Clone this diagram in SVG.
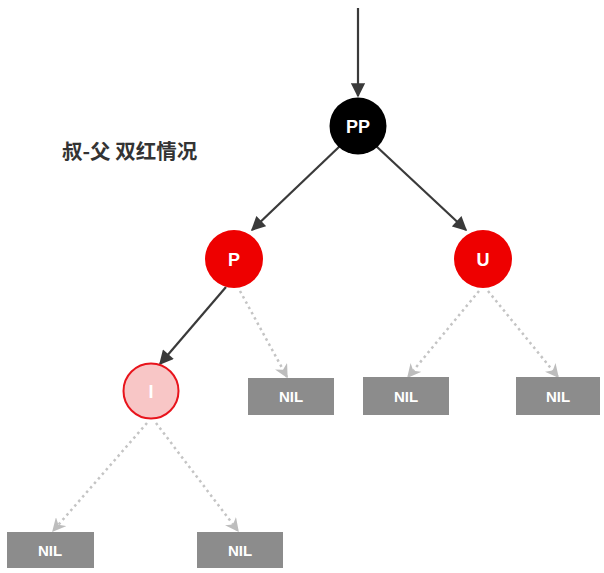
<svg xmlns="http://www.w3.org/2000/svg" width="604" height="573" viewBox="0 0 604 573">
  <defs>
    <marker id="arrowDark" viewBox="0 0 10 10" refX="9" refY="5" markerWidth="7" markerHeight="6.5" orient="auto" markerUnits="strokeWidth">
      <path d="M0,0 L10,5 L0,10 z" fill="#3a3a3a"/>
    </marker>
    <marker id="arrowLight" viewBox="0 0 10 10" refX="9" refY="5" markerWidth="5.5" markerHeight="5.5" orient="auto" markerUnits="strokeWidth">
      <path d="M0,0 L10,5 L0,10 L3,5 z" fill="#bdbdbd"/>
    </marker>
    <style>
      .solid { stroke: #3a3a3a; stroke-width: 2.2; fill: none; marker-end: url(#arrowDark); }
      .dotted { stroke: #c4c4c4; stroke-width: 2.5; fill: none; stroke-dasharray: 2.5 3.5; marker-end: url(#arrowLight); }
      .label { font-family: "Liberation Sans", Arial, sans-serif; font-weight: bold; fill: #ffffff; text-anchor: middle; }
      .nil rect { fill: #8c8c8c; }
      .nil text { font-size: 15px; }
      .circle-label { font-size: 18px; }
    </style>
  </defs>

  <!-- caption -->
  <text x="62" y="159" font-family="Noto Sans CJK SC, sans-serif" font-weight="bold" font-size="20.5" fill="#333333">叔-父 双红情况</text>

  <!-- connectors -->
  <g id="edges">
    <line class="solid" x1="358" y1="8" x2="358" y2="96"/>
    <line class="solid" x1="340" y1="146" x2="252" y2="230"/>
    <line class="solid" x1="376" y1="146" x2="466" y2="230"/>
    <line class="solid" x1="226" y1="287" x2="160" y2="364"/>
    <line class="dotted" x1="240" y1="291" x2="287" y2="377"/>
    <line class="dotted" x1="479" y1="291" x2="408" y2="377"/>
    <line class="dotted" x1="488" y1="291" x2="558" y2="377"/>
    <line class="dotted" x1="147" y1="423" x2="53" y2="531"/>
    <line class="dotted" x1="156" y1="423" x2="238" y2="531"/>
  </g>

  <!-- nodes -->
  <g id="node-PP">
    <circle cx="358" cy="126" r="28.5" fill="#000000"/>
    <text class="label circle-label" x="358" y="132.5">PP</text>
  </g>
  <g id="node-P">
    <circle cx="234" cy="259" r="29" fill="#ee0000"/>
    <text class="label circle-label" x="234" y="265.5">P</text>
  </g>
  <g id="node-U">
    <circle cx="483" cy="259" r="29" fill="#ee0000"/>
    <text class="label circle-label" x="483" y="265.5">U</text>
  </g>
  <g id="node-I">
    <circle cx="151" cy="391" r="27.5" fill="#f8c6c6" stroke="#e8141c" stroke-width="2"/>
    <text class="label circle-label" x="151" y="397.5">I</text>
  </g>
  <g id="nil-P-right" class="nil">
    <rect x="248" y="378" width="86" height="37"/>
    <text class="label" x="291" y="402">NIL</text>
  </g>
  <g id="nil-U-left" class="nil">
    <rect x="363" y="377" width="86" height="38"/>
    <text class="label" x="406" y="402">NIL</text>
  </g>
  <g id="nil-U-right" class="nil">
    <rect x="516" y="377" width="84" height="38"/>
    <text class="label" x="558" y="402">NIL</text>
  </g>
  <g id="nil-I-left" class="nil">
    <rect x="7" y="532" width="87" height="36"/>
    <text class="label" x="50" y="556">NIL</text>
  </g>
  <g id="nil-I-right" class="nil">
    <rect x="197" y="532" width="86" height="36"/>
    <text class="label" x="240" y="556">NIL</text>
  </g>
</svg>
